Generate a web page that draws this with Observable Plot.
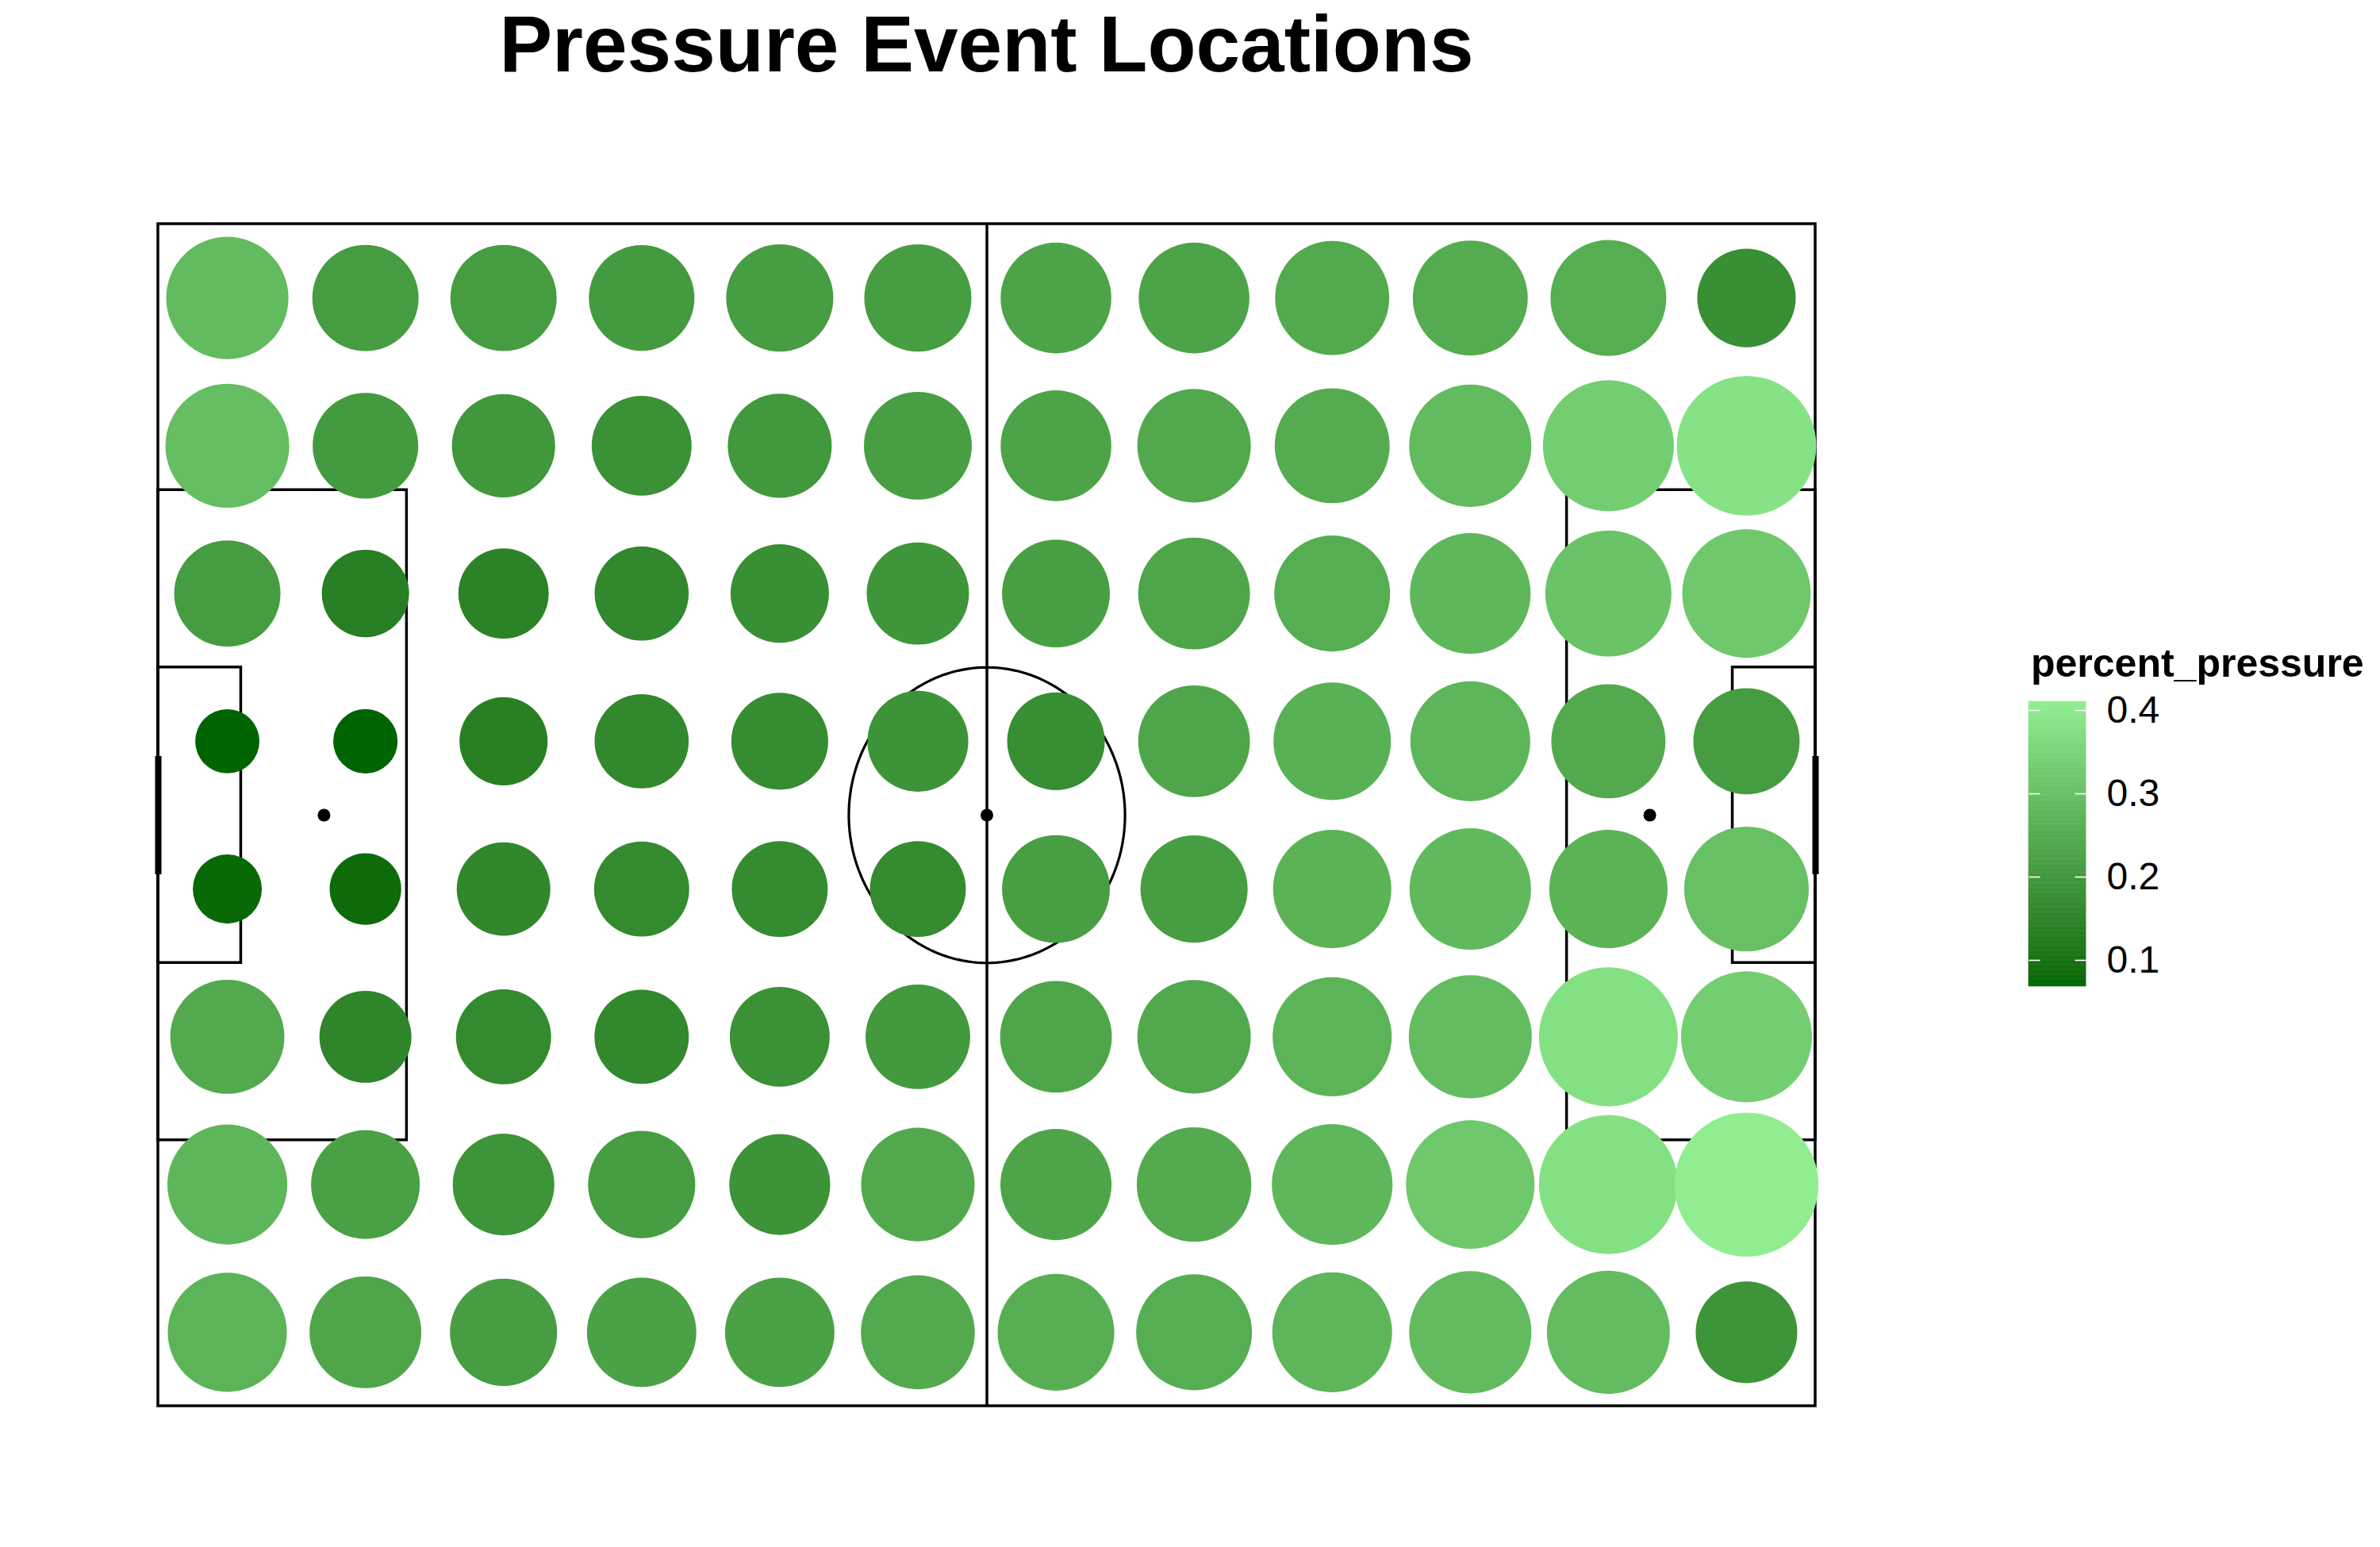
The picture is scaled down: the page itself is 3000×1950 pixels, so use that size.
<!DOCTYPE html>
<html>
<head>
<meta charset="utf-8">
<script src="https://cdn.jsdelivr.net/npm/d3@7"></script>
<script src="https://cdn.jsdelivr.net/npm/@observablehq/plot@0.6"></script>
<style>
  html, body { margin: 0; padding: 0; background: #ffffff; }
  body { position: relative; width: 3000px; height: 1950px; overflow: hidden; font-family: "Liberation Sans", Arial, sans-serif; }
  #title { position: absolute; left: 0; width: 2487px; top: 5px; text-align: center;
           font-family: "Liberation Sans", Arial, sans-serif; font-weight: bold; font-size: 100px; line-height: 1; color: #000; }
  #chart { position: absolute; left: 0; top: 0; }
  #legendTitle { position: absolute; left: 2560px; top: 811px; font-family: "Liberation Sans", Arial, sans-serif;
                 font-weight: bold; font-size: 50px; line-height: 1; color: #000; white-space: nowrap; }
  #legend { position: absolute; left: 2557px; top: 874px; }
</style>
</head>
<body>
<div id="chart"></div>
<div id="title">Pressure Event Locations</div>
<div id="legendTitle">percent_pressure</div>
<div id="legend"></div>
<script>
// ---- Data (StatsBomb pitch coordinates, 120 x 80; 10 x 10 bins) ----
const columnCenters = [5, 15, 25, 35, 45, 55, 65, 75, 85, 95, 105, 115];
const rowCenters = [5, 15, 25, 35, 45, 55, 65, 75];

const pressureRow1 = [0.289, 0.213, 0.213, 0.210, 0.217, 0.217, 0.233, 0.233, 0.249, 0.253, 0.257, 0.180];
const pressureRow2 = [0.297, 0.210, 0.200, 0.186, 0.203, 0.220, 0.233, 0.246, 0.253, 0.289, 0.335, 0.384];
const pressureRow3 = [0.213, 0.138, 0.149, 0.163, 0.180, 0.196, 0.220, 0.238, 0.257, 0.281, 0.309, 0.322];
const pressureRow4 = [0.0686, 0.069, 0.141, 0.163, 0.174, 0.190, 0.177, 0.238, 0.265, 0.277, 0.249, 0.213];
const pressureRow5 = [0.081, 0.088, 0.161, 0.167, 0.170, 0.170, 0.220, 0.217, 0.269, 0.285, 0.269, 0.301];
const pressureRow6 = [0.249, 0.155, 0.167, 0.164, 0.186, 0.206, 0.238, 0.246, 0.273, 0.293, 0.380, 0.335];
const pressureRow7 = [0.277, 0.224, 0.193, 0.217, 0.190, 0.246, 0.235, 0.251, 0.281, 0.322, 0.380, 0.4105];
const pressureRow8 = [0.273, 0.238, 0.217, 0.227, 0.227, 0.248, 0.261, 0.257, 0.277, 0.289, 0.293, 0.193];

const legendTicks = [0.1, 0.2, 0.3, 0.4];
const lowColor = "#006400";   // darkgreen
const highColor = "#90EE90";  // lightgreen

// Pitch geometry (StatsBomb units)
const pitchLength = 120, pitchWidth = 80;
const penaltyDepth = 18, penaltyTop = 18, penaltyBottom = 62;
const sixDepth = 6, sixTop = 30, sixBottom = 50;
const spotDistance = 12, centreRadius = 10;
const goalTop = 36, goalBottom = 44;

// ---- Derived tables ----
const rows = [pressureRow1, pressureRow2, pressureRow3, pressureRow4, pressureRow5, pressureRow6, pressureRow7, pressureRow8];
const cells = rows.flatMap((row, i) => row.map((v, j) => ({x: columnCenters[j], y: rowCenters[i], percent_pressure: v})));
const extent = d3.extent(cells, d => d.percent_pressure);

const boxes = [
  {x1: 0, x2: pitchLength, y1: 0, y2: pitchWidth},
  {x1: 0, x2: penaltyDepth, y1: penaltyTop, y2: penaltyBottom},
  {x1: pitchLength - penaltyDepth, x2: pitchLength, y1: penaltyTop, y2: penaltyBottom},
  {x1: 0, x2: sixDepth, y1: sixTop, y2: sixBottom},
  {x1: pitchLength - sixDepth, x2: pitchLength, y1: sixTop, y2: sixBottom}
];
const halfway = [{x1: pitchLength / 2, x2: pitchLength / 2, y1: 0, y2: pitchWidth}];
const goals = [
  {x1: 0, x2: 0, y1: goalTop, y2: goalBottom},
  {x1: pitchLength, x2: pitchLength, y1: goalTop, y2: goalBottom}
];
const spots = [
  {x: spotDistance, y: pitchWidth / 2},
  {x: pitchLength / 2, y: pitchWidth / 2},
  {x: pitchLength - spotDistance, y: pitchWidth / 2}
];
const centreCircle = d3.range(0, 361, 2).map(a => ({
  x: pitchLength / 2 + centreRadius * Math.cos(a * Math.PI / 180),
  y: pitchWidth / 2 + centreRadius * Math.sin(a * Math.PI / 180)
}));

const colorScale = {type: "linear", domain: extent, range: [lowColor, highColor], interpolate: d3.interpolateLab};

const chart = Plot.plot({
  width: 3000,
  height: 1950,
  marginLeft: 199,
  marginRight: 712,
  marginTop: 282,
  marginBottom: 178,
  style: {background: "white", fontFamily: "Liberation Sans, Arial, sans-serif", overflow: "visible"},
  x: {domain: [0, pitchLength], axis: null},
  y: {domain: [0, pitchWidth], reverse: true, axis: null},
  r: {type: "sqrt", domain: [0, extent[1]], range: [5.75, 90.75]},
  color: colorScale,
  marks: [
    Plot.rect(boxes, {x1: "x1", x2: "x2", y1: "y1", y2: "y2", fill: "none", stroke: "black", strokeWidth: 3.5}),
    Plot.link(halfway, {x1: "x1", x2: "x2", y1: "y1", y2: "y2", stroke: "black", strokeWidth: 3.5}),
    Plot.line(centreCircle, {x: "x", y: "y", stroke: "black", strokeWidth: 3.2}),
    Plot.link(goals, {x1: "x1", x2: "x2", y1: "y1", y2: "y2", stroke: "black", strokeWidth: 8}),
    Plot.dot(spots, {x: "x", y: "y", r: 8, fill: "black"}),
    Plot.dot(cells, {x: "x", y: "y", r: "percent_pressure", fill: "percent_pressure", stroke: null, sort: null})
  ]
});
document.getElementById("chart").appendChild(chart);

// ---- Vertical colour bar legend ----
const nBands = 300;
const bands = d3.range(nBands).map(i => {
  const lo = extent[0] + (extent[1] - extent[0]) * i / nBands;
  const hi = extent[0] + (extent[1] - extent[0]) * (i + 1) / nBands;
  return {lo, hi, mid: (lo + hi) / 2};
});
const barWidth = 72;
const legend = Plot.plot({
  width: barWidth + 160,
  height: 359 + 20,
  marginLeft: 0,
  marginRight: 160,
  marginTop: 10,
  marginBottom: 10,
  style: {background: "transparent", fontFamily: "Liberation Sans, Arial, sans-serif", fontSize: "48px", color: "black", overflow: "visible"},
  x: {domain: [0, barWidth], axis: null},
  y: {domain: extent, axis: null},
  color: colorScale,
  marks: [
    Plot.rect(bands, {x1: () => 0, x2: () => barWidth, y1: "lo", y2: "hi", fill: "mid", stroke: "mid", strokeWidth: 0.6}),
    Plot.link(legendTicks, {x1: () => 0, x2: () => 14, y1: d => d, y2: d => d, stroke: "white", strokeWidth: 1.6}),
    Plot.link(legendTicks, {x1: () => barWidth - 14, x2: () => barWidth, y1: d => d, y2: d => d, stroke: "white", strokeWidth: 1.6}),
    Plot.axisY(legendTicks, {anchor: "right", tickSize: 0, tickPadding: 26, fontSize: 48, tickFormat: d3.format(".1f"), label: null, fill: "black"})
  ]
});
document.getElementById("legend").appendChild(legend);
</script>
</body>
</html>
